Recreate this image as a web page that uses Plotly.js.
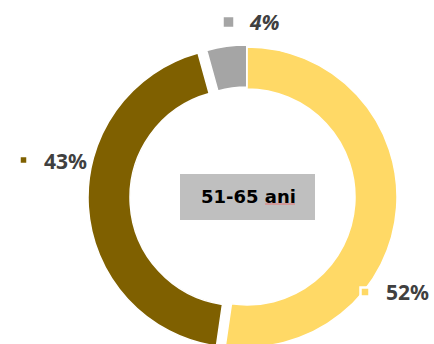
<!DOCTYPE html>
<html>
<head>
<meta charset="utf-8">
<script src="https://cdn.plot.ly/plotly-3.0.1.min.js"></script>
<style>
html,body{margin:0;padding:0;overflow:hidden;background:#fff;width:434px;height:344px;}
#chart{width:434px;height:400px;}
</style>
</head>
<body>
<div id="chart"></div>
<script>
// Data
var categories = ["Categoria 1", "Categoria 2", "Categoria 3"];
var values = [52.3, 43.4, 4.3];
var valueLabels = ["52%", "43%", "4%"];
var sliceColors = ["#FFD966", "#7F6000", "#A5A5A5"];
var centerLabel = "51-65 ani";

// layout geometry (pixels)
var W = 434, H = 400;
var M = {l: 88, r: 28, t: 38, b: 44};
var PW = W - M.l - M.r, PH = H - M.t - M.b;
function px(x){ return (x - M.l) / PW; }
function py(y){ return (H - M.b - y) / PH; }

var trace = {
  type: "pie",
  labels: categories,
  values: values,
  sort: false,
  direction: "clockwise",
  rotation: 0,
  hole: 0.72,
  pull: [0, 0.06, 0.013],
  textinfo: "none",
  hoverinfo: "label+percent",
  marker: {colors: sliceColors, line: {color: "#ffffff", width: 1.5}},
  showlegend: false
};

// label placements (pixel positions of key square centres and text starts)
var keyPos = [[365, 292, 9], [23.5, 160, 8], [228.5, 22, 12]];
var textPos = [[384, 292], [42, 161], [247, 22]];

var shapes = [];
var annotations = [];
for (var i = 0; i < categories.length; i++) {
  var k = keyPos[i];
  shapes.push({
    type: "rect", xref: "paper", yref: "paper",
    x0: px(k[0] - k[2] / 2), x1: px(k[0] + k[2] / 2),
    y0: py(k[1] + k[2] / 2), y1: py(k[1] - k[2] / 2),
    fillcolor: sliceColors[i], line: {color: "#ffffff", width: 2.5}, layer: "above"
  });
  annotations.push({
    xref: "paper", yref: "paper",
    x: px(textPos[i][0]), y: py(textPos[i][1]),
    xanchor: "left", yanchor: "middle", showarrow: false,
    text: valueLabels[i],
    font: {family: "Noto Sans, Liberation Sans, sans-serif", size: 21, color: "#404040",
           weight: 700, style: i === 2 ? "italic" : "normal"}
  });
}
// centre box
shapes.push({
  type: "rect", xref: "paper", yref: "paper",
  x0: px(180), x1: px(315), y0: py(220), y1: py(174),
  fillcolor: "#BFBFBF", line: {width: 0}, layer: "above"
});
// spell-check underline under "ani"
shapes.push({
  type: "line", xref: "paper", yref: "paper",
  x0: px(265), x1: px(295), y0: py(204), y1: py(204),
  line: {color: "#E57373", width: 1}, layer: "above"
});
annotations.push({
  xref: "paper", yref: "paper", x: px(248), y: py(196),
  xanchor: "center", yanchor: "middle", showarrow: false,
  text: centerLabel,
  font: {family: "DejaVu Sans, sans-serif", size: 18, color: "#000000", weight: 700}
});

var layout = {
  width: W, height: H,
  margin: M,
  paper_bgcolor: "#ffffff",
  plot_bgcolor: "#ffffff",
  showlegend: false,
  shapes: shapes,
  annotations: annotations
};

Plotly.newPlot("chart", [trace], layout, {displayModeBar: false, staticPlot: true});
</script>
</body>
</html>
